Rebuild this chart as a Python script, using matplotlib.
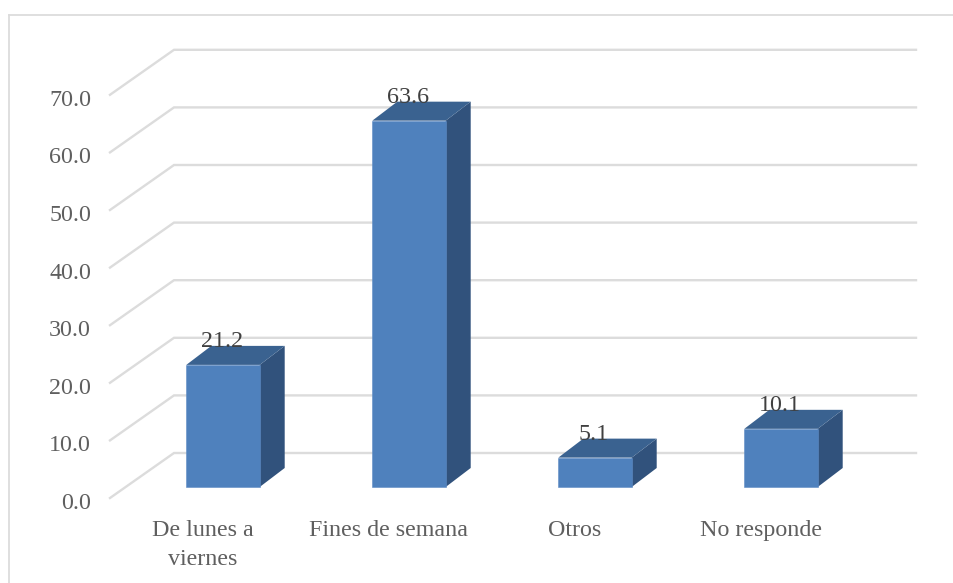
import matplotlib
matplotlib.use("Agg")
import matplotlib.pyplot as plt
from matplotlib.patches import Polygon

categories = ["De lunes a\nviernes", "Fines de semana", "Otros", "No responde"]
values = [21.2, 63.6, 5.1, 10.1]
yticks = [0, 10, 20, 30, 40, 50, 60, 70]

W, H = 954, 583
PX_X = 186.0      # pixels per category
PX_Y = 5.76       # pixels per value unit
X0, Y0 = 223.0, 487.0   # pixel of category 0, value 0

fig = plt.figure(figsize=(W / 100, H / 100), dpi=100)
ax = fig.add_axes([0, 0, 1, 1])
ax.set_xlim(-X0 / PX_X, (W - X0) / PX_X)
ax.set_ylim((Y0 - H) / PX_Y, Y0 / PX_Y)
ax.axis("off")

plt.rcParams["font.family"] = ["Liberation Serif", "DejaVu Serif"]
FS = 17.3
GRID = "#dcdcdc"

def dx(p):
    return p / PX_X

def dy(p):
    return p / PX_Y

# chart-area frame, clipped by the image on the right and bottom
ax.plot([dx(9 - X0), dx(9 - X0)], [dy(Y0 - H), dy(Y0 - 15)], color=GRID, lw=1.3, zorder=1)
ax.plot([dx(9 - X0), dx(W - X0)], [dy(Y0 - 15), dy(Y0 - 15)], color=GRID, lw=1.3, zorder=1)

# floor/wall gridlines
for v in yticks:
    ax.plot([dx(110 - X0), dx(174 - X0), dx(916 - X0)],
            [v + dy(-11), v + dy(34), v + dy(34)],
            color=GRID, lw=1.7, zorder=2, solid_joinstyle="miter")
    ax.text(dx(91 - X0), v + dy(-14), f"{v:.1f}", ha="right", va="center_baseline",
            fontsize=FS, color="#5f5f5f", zorder=6)

# 3D bars
half = dx(36.7)
ox, oy = dx(25), dy(19)
for i, (c, v) in enumerate(zip(categories, values)):
    ax.bar(i, v, width=2 * half, color="#4f81bd", edgecolor="#5f8cc4", linewidth=0.4, zorder=4)
    ax.add_patch(Polygon([(i + half, 0), (i + half + ox, oy), (i + half + ox, v + oy), (i + half, v)],
                         closed=True, facecolor="#31527c", edgecolor="none", zorder=3))
    ax.add_patch(Polygon([(i - half, v), (i + half, v), (i + half + ox, v + oy), (i - half + ox, v + oy)],
                         closed=True, facecolor="#3a6290", edgecolor="none", zorder=3))
    ax.text(i - dx(1), v + dy(26), f"{v:.1f}", ha="center", va="center_baseline",
            fontsize=FS, color="#404040", zorder=6)
    ax.text(i - dx(20.5), dy(-33), c, ha="center", va="top", fontsize=FS, color="#5f5f5f",
            linespacing=1.47, zorder=6)

fig.savefig("out.png", dpi=100, facecolor="white")
